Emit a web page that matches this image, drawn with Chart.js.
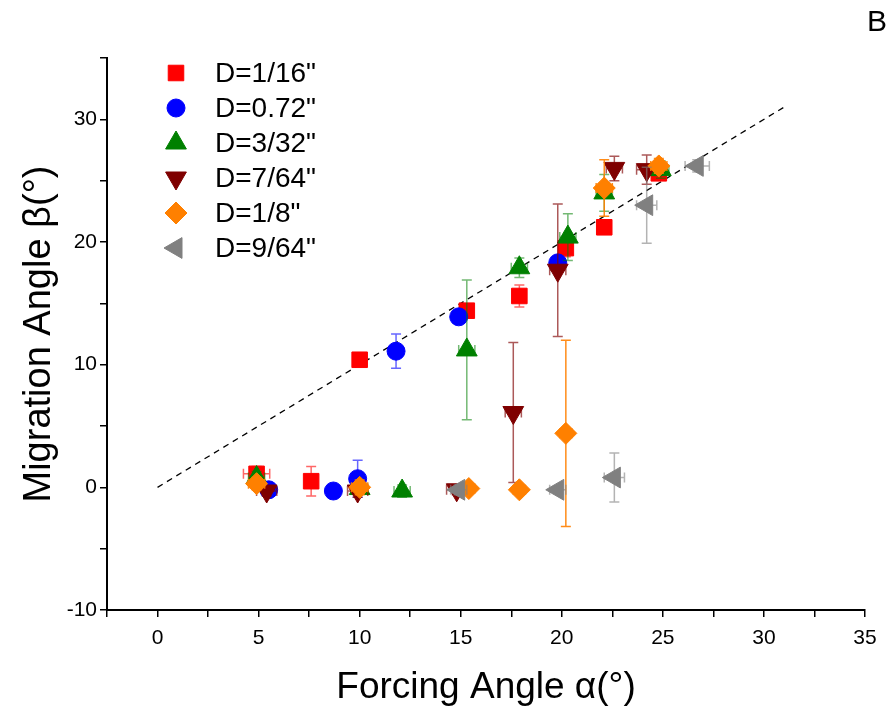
<!DOCTYPE html>
<html>
<head>
<meta charset="utf-8">
<script src="https://cdn.jsdelivr.net/npm/chart.js@4.4.0/dist/chart.umd.min.js"></script>
<style>
  html, body { margin: 0; padding: 0; background: #fff; }
  #wrap { width: 895px; height: 722px; }
</style>
</head>
<body>
<div id="wrap"><canvas id="migrationChart"></canvas></div>
<script>
  // series labels
  const labels = ['D=1/16"', 'D=0.72"', 'D=3/32"', 'D=7/64"', 'D=1/8"', 'D=9/64"'];

  // D=1/16"
  const x1 = [4.9, 7.6, 10.0, 15.3, 17.9, 20.2, 22.1, 24.8];
  const y1 = [1.1, 0.5, 10.4, 14.4, 15.6, 19.5, 21.2, 25.6];
  const ye1 = [0.6, 1.2, 0.2, 0.3, 0.9, 0.7, 0.4, 0.5];
  const xe1 = [0.65, 0.2, 0.2, 0.2, 0.3, 0.3, 0.3, 0.3];

  // D=0.72"
  const x2 = [5.5, 8.7, 9.9, 11.8, 14.9, 19.8];
  const y2 = [-0.2, -0.3, 0.7, 11.1, 13.9, 18.3];
  const ye2 = [0.3, 0.2, 1.5, 1.4, 0.3, 0.4];
  const xe2 = [0.3, 0.2, 0.2, 0.2, 0.2, 0.3];

  // D=3/32"
  const x3 = [4.9, 10.0, 12.1, 15.3, 17.9, 20.3, 22.1, 24.9];
  const y3 = [0.8, -0.1, -0.3, 11.2, 17.9, 20.4, 24.0, 25.9];
  const ye3 = [0.5, 0.4, 0.5, 5.7, 0.8, 1.9, 1.5, 0.7];
  const xe3 = [0.4, 0.4, 0.4, 0.4, 0.4, 0.4, 0.4, 0.4];

  // D=7/64"
  const x4 = [5.4, 9.9, 14.8, 17.6, 19.8, 22.6, 24.2];
  const y4 = [-0.3, -0.3, -0.2, 6.1, 17.7, 26.0, 25.9];
  const ye4 = [0.4, 0.5, 0.4, 5.7, 5.4, 1.0, 1.2];
  const xe4 = [0.5, 0.5, 0.5, 0.4, 0.4, 0.4, 0.5];

  // D=1/8"
  const x5 = [4.9, 10.0, 15.4, 17.9, 20.2, 22.1, 24.8];
  const y5 = [0.3, 0.0, -0.1, -0.2, 4.4, 24.4, 26.2];
  const ye5 = [0.5, 0.6, 0.3, 0.3, 7.6, 2.3, 0.6];
  const xe5 = [0.4, 0.4, 0.3, 0.3, 0.3, 0.4, 0.4];

  // D=9/64"
  const x6 = [14.9, 19.8, 22.6, 24.2, 26.7];
  const y6 = [-0.2, -0.2, 0.8, 23.0, 26.2];
  const ye6 = [0.4, 0.3, 2.0, 3.1, 0.5];
  const xe6 = [0.4, 0.4, 0.5, 0.5, 0.6];

  // guide line beta = alpha
  const guideX = [0, 31];
  const guideY = [0, 31];

  const xTicks = [0, 5, 10, 15, 20, 25, 30, 35];
  const yTicks = [-10, 0, 10, 20, 30];

  const FONT = "'Liberation Sans', Arial, sans-serif";

  function pts(xs, ys) {
    return xs.map((x, i) => ({ x: x, y: ys[i] }));
  }

  function series(i, xs, ys, xe, ye, color, barColor, style, rot, r) {
    return {
      label: labels[i],
      data: pts(xs, ys),
      xErr: xe,
      yErr: ye,
      barColor: barColor,
      backgroundColor: color,
      borderColor: color,
      borderWidth: 1,
      pointStyle: style,
      rotation: rot,
      pointRadius: r,
      pointHoverRadius: r,
      order: 6 - i
    };
  }

  const datasets = [
    series(0, x1, y1, xe1, ye1, '#ff0000', 'rgba(255,0,0,0.6)', 'rect', 0, 11),
    series(1, x2, y2, xe2, ye2, '#0000ff', 'rgba(0,0,255,0.6)', 'circle', 0, 9),
    series(2, x3, y3, xe3, ye3, '#008000', 'rgba(0,128,0,0.55)', 'triangle', 0, 12),
    series(3, x4, y4, xe4, ye4, '#7f0000', 'rgba(128,0,0,0.65)', 'triangle', 180, 12),
    series(4, x5, y5, xe5, ye5, '#ff8000', 'rgba(255,128,0,0.9)', 'rectRot', 0, 11),
    series(5, x6, y6, xe6, ye6, '#808080', 'rgba(128,128,128,0.6)', 'triangle', -90, 12),
    {
      type: 'line',
      label: 'guide',
      data: pts(guideX, guideY),
      borderColor: '#000',
      borderWidth: 1.3,
      borderDash: [6, 5],
      pointRadius: 0,
      showLine: true,
      fill: false,
      order: 20
    }
  ];

  // error bars, drawn under each series' markers
  const errorBars = {
    id: 'errorBars',
    beforeDatasetDraw(chart, args) {
      const ds = chart.data.datasets[args.index];
      if (!ds.yErr) return;
      const ctx = chart.ctx;
      const xs = chart.scales.x, ys = chart.scales.y;
      const cap = 5;
      ctx.save();
      ctx.strokeStyle = ds.barColor;
      ctx.lineWidth = 1.5;
      ds.data.forEach((p, i) => {
        const px = xs.getPixelForValue(p.x);
        const py = ys.getPixelForValue(p.y);
        const yt = ys.getPixelForValue(p.y + ds.yErr[i]);
        const yb = ys.getPixelForValue(p.y - ds.yErr[i]);
        const xl = xs.getPixelForValue(p.x - ds.xErr[i]);
        const xr = xs.getPixelForValue(p.x + ds.xErr[i]);
        ctx.beginPath();
        ctx.moveTo(px, yt); ctx.lineTo(px, yb);
        ctx.moveTo(px - cap, yt); ctx.lineTo(px + cap, yt);
        ctx.moveTo(px - cap, yb); ctx.lineTo(px + cap, yb);
        ctx.moveTo(xl, py); ctx.lineTo(xr, py);
        ctx.moveTo(xl, py - cap); ctx.lineTo(xl, py + cap);
        ctx.moveTo(xr, py - cap); ctx.lineTo(xr, py + cap);
        ctx.stroke();
      });
      ctx.restore();
    }
  };

  // legend inside the plot and the panel letter
  const extras = {
    id: 'extras',
    afterDraw(chart) {
      const ctx = chart.ctx;
      ctx.save();
      chart.data.datasets.forEach((ds, i) => {
        if (!ds.yErr) return;
        const y = 73 + 35 * i;
        ctx.fillStyle = ds.backgroundColor;
        ctx.strokeStyle = ds.borderColor;
        ctx.lineWidth = 1;
        Chart.helpers.drawPoint(ctx, {
          pointStyle: ds.pointStyle,
          rotation: ds.rotation,
          radius: ds.pointRadius,
          borderWidth: 1
        }, 176, y);
        ctx.fillStyle = '#000';
        ctx.font = '28px ' + FONT;
        ctx.textBaseline = 'middle';
        ctx.textAlign = 'left';
        ctx.fillText(ds.label, 215, y + 1);
      });
      ctx.font = '30px ' + FONT;
      ctx.textAlign = 'center';
      ctx.fillText('B', 877, 23);
      ctx.restore();
    }
  };

  const ctx = document.getElementById('migrationChart').getContext('2d');
  const migrationChart = new Chart(ctx, {
    type: 'scatter',
    data: { datasets: datasets },
    plugins: [errorBars, extras],
    options: {
      responsive: true,
      maintainAspectRatio: false,
      animation: false,
      layout: { padding: { top: 58, right: 30, left: 0, bottom: 0 } },
      plugins: {
        legend: { display: false },
        tooltip: { enabled: false }
      },
      scales: {
        x: {
          type: 'linear',
          min: -2.5,
          max: 35,
          afterFit(scale) { scale.height = 112; },
          border: { display: true, color: '#000', width: 2 },
          grid: { drawOnChartArea: false, color: '#000', lineWidth: 1.5, tickLength: 7 },
          ticks: {
            stepSize: 2.5,
            autoSkip: false,
            maxRotation: 0,
            maxTicksLimit: 50,
            color: '#000',
            padding: 9,
            font: { family: FONT, size: 21 },
            callback: v => xTicks.includes(v) ? v : ''
          },
          title: {
            display: true,
            text: 'Forcing Angle α(°)',
            color: '#000',
            font: { family: FONT, size: 37 },
            padding: { top: 0, bottom: 12 }
          }
        },
        y: {
          type: 'linear',
          min: -10,
          max: 35,
          afterFit(scale) { scale.width = 107; },
          border: { display: true, color: '#000', width: 2 },
          grid: { drawOnChartArea: false, color: '#000', lineWidth: 1.5, tickLength: 7 },
          ticks: {
            stepSize: 5,
            autoSkip: false,
            maxTicksLimit: 50,
            color: '#000',
            padding: 3,
            font: { family: FONT, size: 21 },
            callback: v => yTicks.includes(v) ? v : ''
          },
          title: {
            display: true,
            text: 'Migration Angle β(°)',
            color: '#000',
            font: { family: FONT, size: 38 },
            padding: { top: 17, bottom: 0 }
          }
        }
      }
    }
  });
</script>
</body>
</html>
